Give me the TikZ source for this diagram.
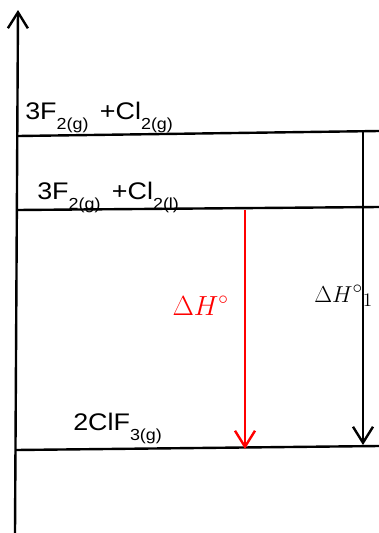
\documentclass[tikz,border=0pt]{standalone}
\usepackage{fontspec}
\setmainfont{Liberation Sans}
\newfontfamily\lvlfont{Liberation Sans}[FakeStretch=1.12]
\usetikzlibrary{arrows.meta}
% lowered subscript for the state symbols
\newcommand{\state}[1]{\raisebox{-8pt}{\fontsize{12}{12}\selectfont #1}}

\begin{document}
\begin{tikzpicture}[x=0.75pt,y=-0.75pt]
	\tikzset{line/.style={draw,line width=1.8pt}}
	\tikzset{arrow/.style={line,-{Straight Barb[length=12pt,width=15pt]}}}
	\tikzset{level/.style={inner sep=0pt,anchor=base west,font=\lvlfont\fontsize{18}{21}\selectfont}}
	\tikzset{enth/.style={inner sep=0pt,font=\fontsize{21}{24}\selectfont}}

	\useasboundingbox (0,0) rectangle (379,533);

	% axis
	\coordinate (ax0) at (15,533);
	\coordinate (ax1) at (18,10);

	% levels
	\coordinate (l1a) at (18,136);
	\coordinate (l1b) at (379,131);
	\coordinate (l2a) at (17,210);
	\coordinate (l2b) at (379,207);
	\coordinate (l3a) at (16,450);
	\coordinate (l3b) at (379,446);

	\node[level] (react1) at (25,119) {3F\state{2(g)}\, +Cl\state{2(g)}};
	\node[level] (react2) at (37,199) {3F\state{2(g)}\, +Cl\state{2(l)}};
	\node[level] (prod) at (73,430) {2ClF\state{3(g)}};

	\draw[arrow] (ax0) -- (ax1);
	\path[line] (l1a) -- (l1b);
	\path[line] (l2a) -- (l2b);
	\path[line] (l3a) -- (l3b);

	% enthalpy arrows
	\coordinate (h0) at (245,210);
	\coordinate (h1) at (245,449);
	\coordinate (k0) at (363,132);
	\coordinate (k1) at (363,445);

	\draw[arrow,red] (h0) -- (h1);
	\draw[arrow] (k0) -- (k1);

	\node[enth,red,anchor=base east] (dH) at (229,315) {$\Delta H^{\circ}$};
	\node[enth,anchor=base west,font=\fontsize{19}{22}\selectfont] (dH1) at (314,302) {$\Delta H^{\circ}{}_{1}$};
\end{tikzpicture}
\end{document}
